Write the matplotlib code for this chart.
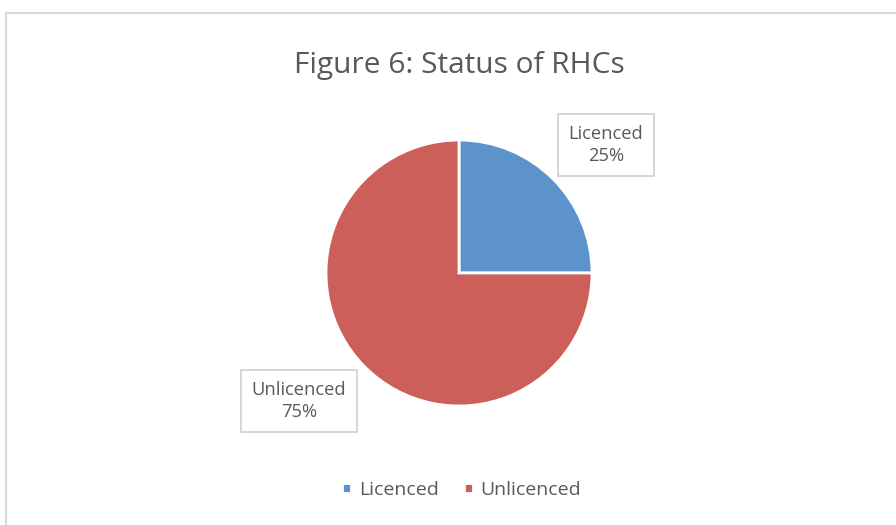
import matplotlib
matplotlib.use("Agg")
import matplotlib.pyplot as plt
from matplotlib.patches import Rectangle

labels = ["Licenced", "Unlicenced"]
shares = [25, 75]
colors = ["#5B93CA", "#CC5F59"]

W, H = 896, 525
fig = plt.figure(figsize=(W / 100, H / 100), dpi=100)
fig.patch.set_facecolor("white")
plt.rcParams["font.family"] = ["Open Sans", "DejaVu Sans"]

# chart area border
fig.patches.append(Rectangle((6 / W, -0.1), 1.0, 1 - 13 / H + 0.1, transform=fig.transFigure,
                             fill=False, edgecolor="#D9D9D9", linewidth=1.5))

cx, cy, r = 459, 273, 133
ax = fig.add_axes([(cx - r) / W, 1 - (cy + r) / H, 2 * r / W, 2 * r / H])
wedges, _ = ax.pie(shares, colors=colors, startangle=90, counterclock=False,
                   wedgeprops=dict(edgecolor="white", linewidth=2))
ax.set_xlim(-1, 1)
ax.set_ylim(-1, 1)
ax.set_aspect("auto")

fig.text(cx / W, 1 - 65 / H, "Figure 6: Status of RHCs", ha="center", va="center",
         fontsize=21.5, color="#595959")

boxes = [(606, 145), (299, 401)]
for (bx, by), lab, val in zip(boxes, labels, shares):
    fig.text(bx / W, 1 - by / H, "%s\n%d%%" % (lab, val), ha="center", va="center",
             fontsize=13.2, color="#595959", linespacing=1.3,
             bbox=dict(boxstyle="square,pad=0.6", facecolor="white", edgecolor="#D0D0D0", linewidth=1.2))

fig.legend(wedges, labels, loc="center", bbox_to_anchor=(cx / W + 0.003, 1 - 490 / H), ncol=2,
           frameon=False, fontsize=14, handlelength=0.45, handleheight=0.45,
           handletextpad=0.4, columnspacing=1.3, labelcolor="#595959")

fig.savefig("out.png", dpi=100)
